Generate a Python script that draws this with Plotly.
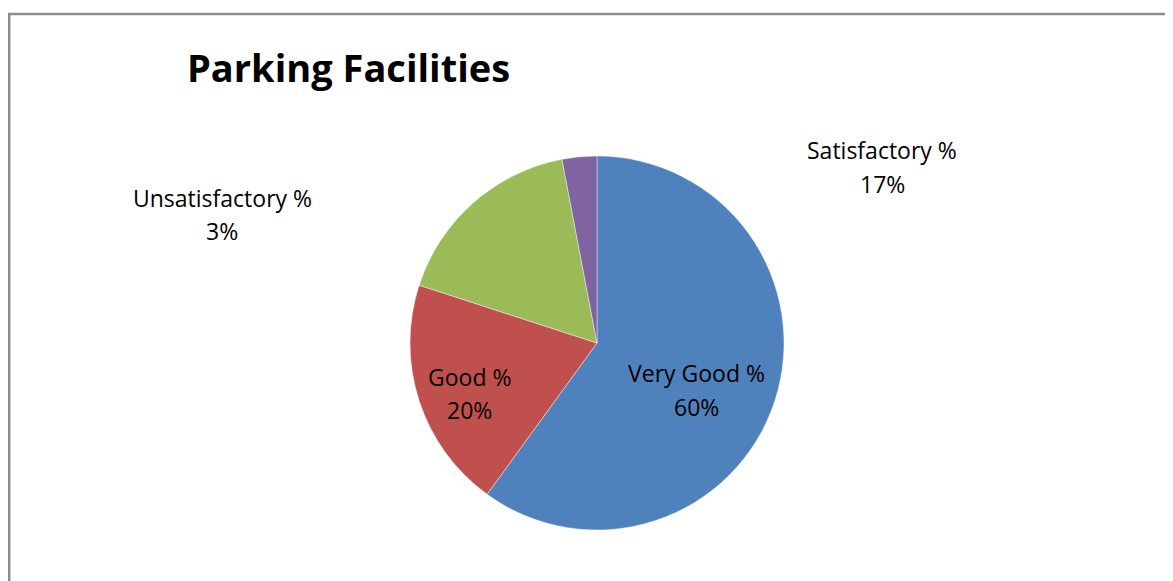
import plotly.graph_objects as go

title = "Parking Facilities"
categories = ["Very Good %", "Good %", "Satisfactory %", "Unsatisfactory %"]
values = [60, 20, 17, 3]
colors = ["#4F81BD", "#C0504D", "#9BBB59", "#8064A2"]

# page has an 8px body margin; figure fills the rest of the 1173x581 window
OFF = 8
W, H = 1173 - OFF, 581 - OFF


def px(x):
    return (x - OFF) / W


def py(y):
    return 1 - (y - OFF) / H


# label anchor positions (screen pixels): (x center, y of first line, y of second line)
label_pos = [(696, 373, 407), (469, 377, 410), (882, 150, 184), (222, 198, 231)]

fig = go.Figure()
fig.add_trace(go.Pie(
    labels=categories,
    values=values,
    marker=dict(colors=colors, line=dict(color="rgba(255,255,255,0.6)", width=0.7)),
    sort=False,
    direction="clockwise",
    rotation=0,
    textinfo="none",
    hoverinfo="label+percent",
    showlegend=False,
    domain=dict(x=[px(410), px(784)], y=[py(530), py(156)]),
))

font_family = "'Open Sans', Lato, sans-serif"
annotations = [dict(
    text="<b>" + title + "</b>", x=px(185), y=py(67), xref="paper", yref="paper",
    xanchor="left", yanchor="middle", showarrow=False,
    font=dict(family=font_family, size=38, color="black"))]
total = sum(values)
for cat, val, (cx, y1, y2) in zip(categories, values, label_pos):
    annotations.append(dict(text=cat, x=px(cx), y=py(y1), xref="paper", yref="paper",
                            xanchor="center", yanchor="middle", showarrow=False,
                            font=dict(family=font_family, size=23, color="black")))
    annotations.append(dict(text=f"{round(100 * val / total)}%", x=px(cx), y=py(y2),
                            xref="paper", yref="paper",
                            xanchor="center", yanchor="middle", showarrow=False,
                            font=dict(family=font_family, size=23, color="black")))

fig.update_layout(
    width=W, height=H,
    margin=dict(l=0, r=0, t=0, b=0),
    paper_bgcolor="white", plot_bgcolor="white",
    annotations=annotations,
    shapes=[dict(type="rect", xref="paper", yref="paper",
                 x0=1.2 / W, x1=1.01, y0=-0.01, y1=1 - 6 / H,
                 line=dict(color="#8C8C8C", width=2.5))],
)

fig.write_html("out.html")
